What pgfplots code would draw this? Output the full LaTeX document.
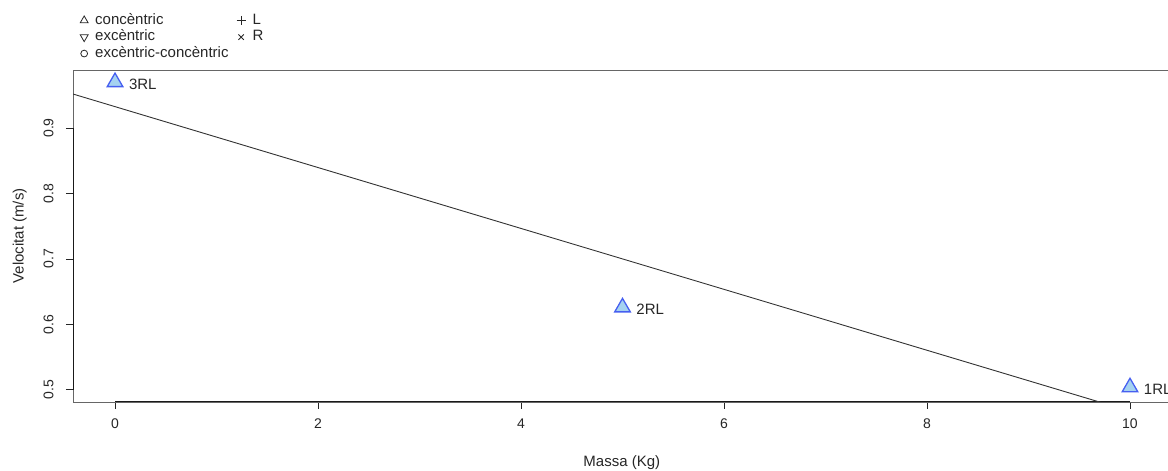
\documentclass[border=0pt]{standalone}
\usepackage{pgfplots}
\pgfplotsset{compat=1.18}
\usepackage{fontspec}
\setmainfont{Liberation Sans}
\definecolor{markedge}{RGB}{70,95,240}
\definecolor{markfill}{RGB}{165,210,240}
\begin{document}
\begin{tikzpicture}
\begin{axis}[
  at={(73pt,69pt)}, anchor=south west, scale only axis,
  width=1097.6pt, height=332pt,
  xmin=-0.414, xmax=10.4, ymin=0.4815, ymax=0.9885,
  axis line style={draw=black!60, line width=0.8pt},
  xtick={0,2,4,6,8,10}, ytick={0.5,0.6,0.7,0.8,0.9},
  yticklabels={0.5,0.6,0.7,0.8,0.9},
  xticklabels={0,2,4,6,8,10},
  tick align=outside, major tick length=7pt,
  tick style={black!85, line width=0.8pt},
  xtick pos=bottom, ytick pos=left,
  ticklabel style={font=\fontsize{14}{16}\selectfont, text=black!85},
  yticklabel style={rotate=90, anchor=south},
  yticklabel shift=9pt, xticklabel shift=6pt,
  xlabel={Massa (Kg)}, ylabel={Velocitat (m/s)},
  label style={font=\fontsize{15}{17}\selectfont, text=black!85},
  xlabel style={at={(ticklabel cs:0.5)}, yshift=-20pt},
  ylabel style={yshift=10pt},
  clip=true,
  legend columns=2,
  legend style={at={(rel axis cs:0,1)}, anchor=south west, xshift=4pt, yshift=6pt,
    draw=none, fill=none, font=\fontsize{15}{17}\selectfont, text=black!85,
    nodes={text height=10.5pt, text depth=3pt, inner ysep=1.5pt},
    row sep=0pt, /tikz/every odd column/.append style={column sep=5pt},
    /tikz/every even column/.append style={column sep=6pt}},
  legend cell align=left,
]
\addlegendimage{only marks, mark=triangle, black!85, mark size=4.6pt, line width=0.8pt}
\addlegendentry{concèntric}
\addlegendimage{only marks, mark=+, black!85, mark size=4.6pt, line width=0.9pt}
\addlegendentry{L}
\addlegendimage{only marks, mark=triangle, black!85, mark size=4.6pt, line width=0.8pt, mark options={rotate=180}}
\addlegendentry{excèntric}
\addlegendimage{only marks, mark=x, black!85, mark size=3.8pt, line width=0.9pt}
\addlegendentry{R}
\addlegendimage{only marks, mark=o, black!85, mark size=3.4pt, line width=0.8pt}
\addlegendentry{excèntric-concèntric}

% axis segments (R axis lines)
\draw[black!90, line width=1pt] (axis cs:0,0.4815) -- (axis cs:10,0.4815);
\draw[black!90, line width=1pt] (axis cs:-0.414,0.5) -- (axis cs:-0.414,0.9);

% regression line
\addplot[forget plot, black!80, line width=0.9pt] coordinates {(-0.414,0.9518) (10.4,0.4489)};

% data points
\addplot[forget plot, only marks, mark=triangle*, mark size=9pt,
  mark options={draw=markedge, fill=markfill, line width=1.3pt},
  point meta=explicit symbolic,
  nodes near coords, nodes near coords align={anchor=west},
  every node near coord/.append style={xshift=10pt, yshift=-2pt, font=\fontsize{15}{17}\selectfont, text=black!85}]
  table[meta=label] {
x y label
0 0.970 3RL
5 0.626 2RL
10 0.504 1RL
};
\end{axis}
\pgfresetboundingbox
\path[use as bounding box] (0,0) rectangle (1168pt,471pt);
\end{tikzpicture}
\end{document}
